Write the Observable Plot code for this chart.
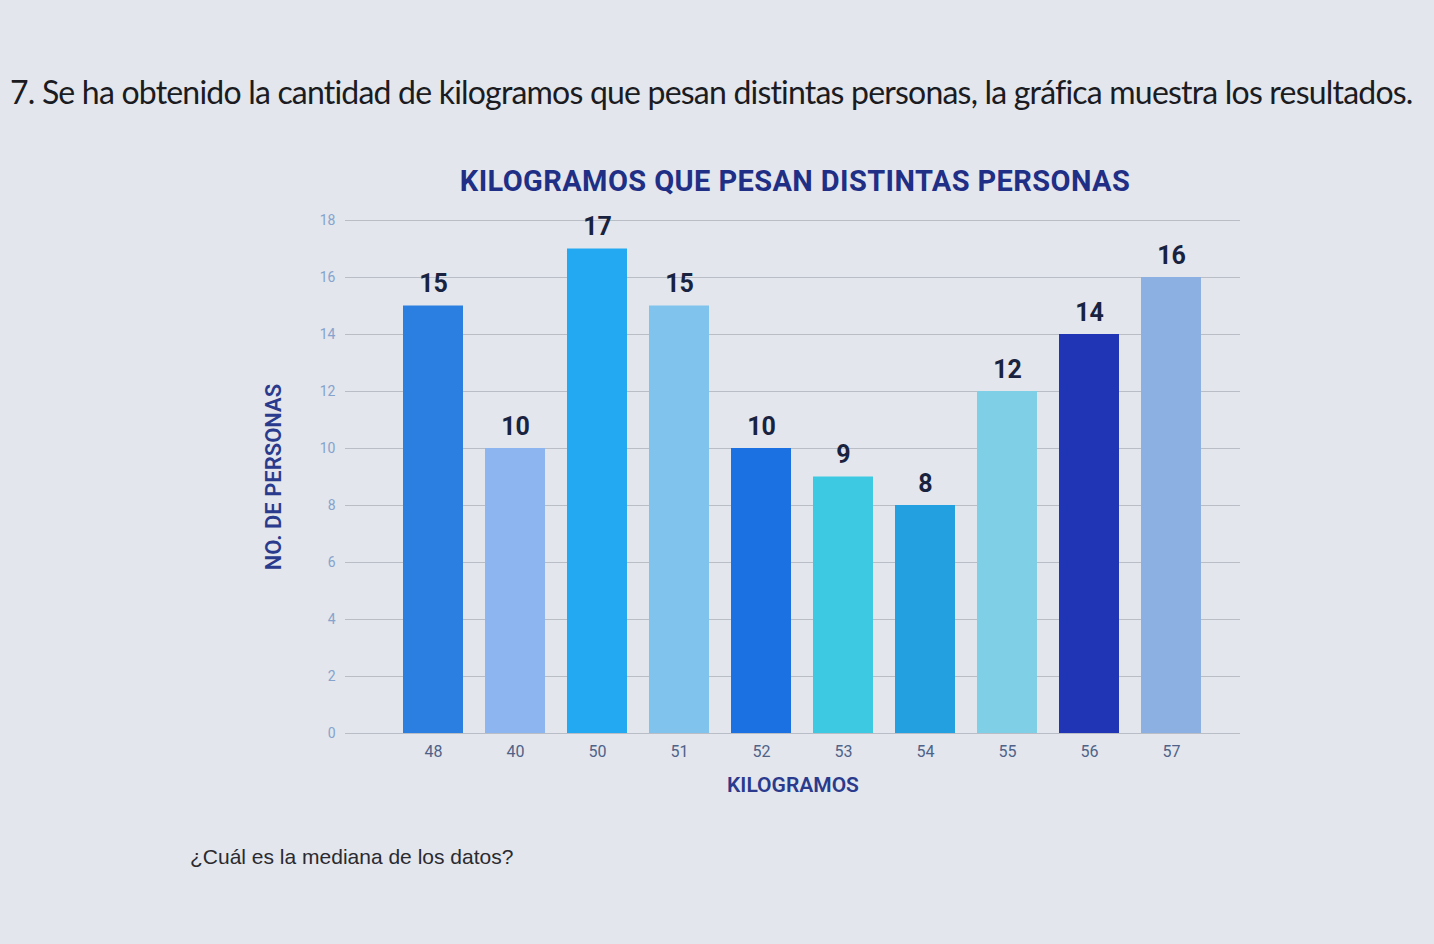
<!DOCTYPE html>
<html>
<head>
<meta charset="utf-8">
<script src="https://cdn.jsdelivr.net/npm/d3@7"></script>
<script src="https://cdn.jsdelivr.net/npm/@observablehq/plot@0.6"></script>
<style>
  html, body { margin: 0; padding: 0; }
  body { width: 1434px; height: 944px; background: #e3e6ec; position: relative; overflow: hidden; font-family: Lato, sans-serif; }
  #q { position: absolute; left: 10px; top: 72px; font-family: Lato, sans-serif; font-size: 32px; color: #1b1b22; white-space: nowrap; letter-spacing: -0.8px; }
  #title { position: absolute; left: 0; width: 1590px; text-align: center; top: 164px; font-family: Roboto, sans-serif; font-weight: 700; font-size: 29px; letter-spacing: 0.4px; color: #1f2f86; }
  #chart { position: absolute; left: 0; top: 200px; }
  #ask { position: absolute; left: 190px; top: 845px; font-family: "Liberation Sans", Arial, sans-serif; font-size: 21px; color: #2a2a30; }
</style>
</head>
<body>
<div id="q">7. Se ha obtenido la cantidad de kilogramos que pesan distintas personas, la gráfica muestra los resultados.</div>
<div id="title">KILOGRAMOS QUE PESAN DISTINTAS PERSONAS</div>
<div id="chart"></div>
<div id="ask">¿Cuál es la mediana de los datos?</div>
<script>
const kilos = ["48", "40", "50", "51", "52", "53", "54", "55", "56", "57"];
const personas = [15, 10, 17, 15, 10, 9, 8, 12, 14, 16];
const colores = ["#2b7fe0", "#8db6f0", "#22a9f2", "#80c4ee", "#1b70e2", "#3ec9e2", "#22a0e0", "#7fcfe6", "#2035b6", "#8cb0e2"];
const yTicks = [0, 2, 4, 6, 8, 10, 12, 14, 16, 18];

const data = kilos.map((k, i) => ({kilos: k, personas: personas[i], color: colores[i]}));

const chart = Plot.plot({
  width: 1434,
  height: 600,
  marginLeft: 345,
  marginRight: 194,
  marginTop: 20,
  marginBottom: 67,
  style: {background: "transparent", fontFamily: "Roboto, sans-serif"},
  x: {domain: kilos, range: [380, 1223], padding: 0.27},
  y: {domain: [0, 18]},
  color: {type: "identity"},
  marks: [
    Plot.gridY(yTicks, {stroke: "#b9bec6", strokeOpacity: 1, strokeWidth: 1}),
    Plot.axisY(yTicks, {tickSize: 0, tickPadding: 10, fontSize: 14, fill: "#86a3cc", label: "NO. DE PERSONAS", labelAnchor: "center", labelOffset: 80, labelArrow: "none"}),
    Plot.barY(data, {x: "kilos", y: "personas", fill: "color"}),
    Plot.text(data, {x: "kilos", y: "personas", text: d => String(d.personas), dy: -22, fontSize: 25, fontWeight: 700, fill: "#19233f"}),
    Plot.axisX({tickSize: 0, tickPadding: 12, fontSize: 16, fill: "#4f6288", label: "KILOGRAMOS", labelAnchor: "center", labelOffset: 58, labelArrow: "none"})
  ]
});

chart.querySelectorAll("g[aria-label='y-axis label'] text").forEach(t => {
  t.setAttribute("fill", "#2a3a8c");
  t.setAttribute("font-size", "22");
  t.setAttribute("font-weight", "600");
});
chart.querySelectorAll("g[aria-label='x-axis label'] text").forEach(t => {
  t.setAttribute("fill", "#2a3a8c");
  t.setAttribute("font-size", "21");
  t.setAttribute("font-weight", "600");
});
document.getElementById("chart").appendChild(chart);
</script>
</body>
</html>
